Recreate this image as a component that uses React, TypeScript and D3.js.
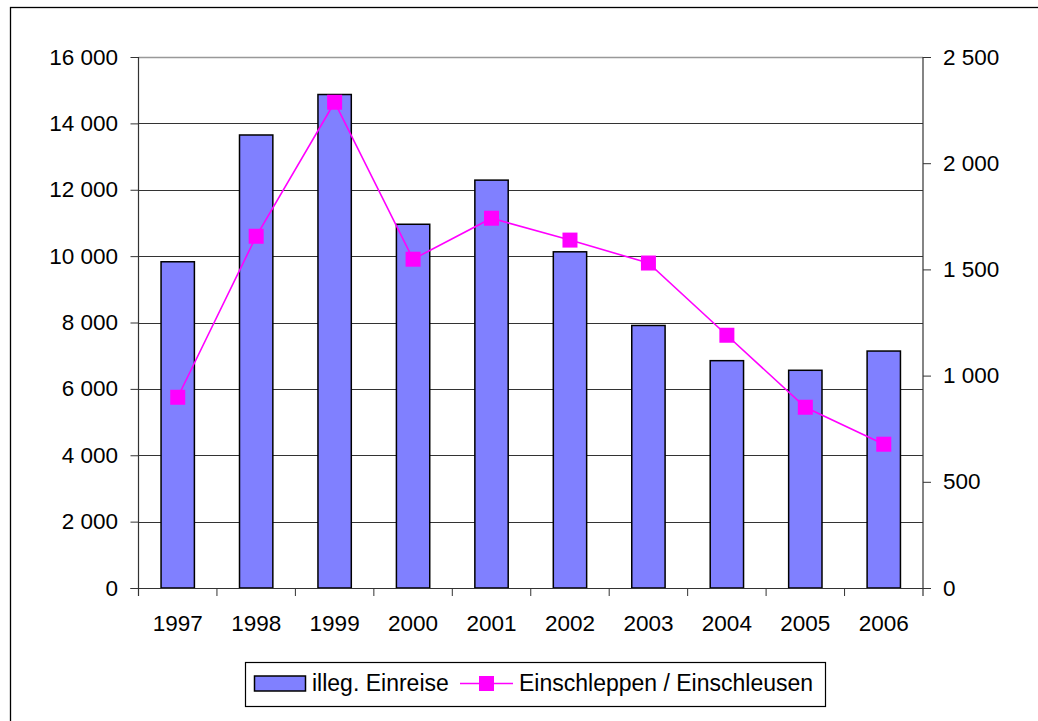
import React from "react";
import * as d3 from "d3";

const years = ["1997", "1998", "1999", "2000", "2001", "2002", "2003", "2004", "2005", "2006"];
const illegEinreise = [9830, 13650, 14870, 10960, 12290, 10130, 7910, 6850, 6560, 7140];
const einschleppen = [898, 1656, 2287, 1548, 1741, 1638, 1530, 1190, 851, 677];
const leftTicks = [0, 2000, 4000, 6000, 8000, 10000, 12000, 14000, 16000];
const rightTicks = [0, 500, 1000, 1500, 2000, 2500];
const seriesNames = ["illeg. Einreise", "Einschleppen / Einschleusen"];

const W = 1038;
const H = 721;
const M = { left: 138.5, right: 923, top: 57, bottom: 588 };
const FONT = "'Liberation Sans', Arial, sans-serif";

const fmt = (v: number) => {
  const s = String(v);
  return s.replace(/\B(?=(\d{3})+(?!\d))/g, " ");
};

export default function App() {
  const x = d3.scaleBand<string>().domain(years).range([M.left, M.right]);
  const yL = d3.scaleLinear().domain([0, 16000]).range([M.bottom, M.top]);
  const yR = d3.scaleLinear().domain([0, 2500]).range([M.bottom, M.top]);
  const bw = x.bandwidth() * 0.425;
  const cx = (d: string) => (x(d) as number) + x.bandwidth() / 2;
  const line = d3
    .line<number>()
    .x((_, i) => cx(years[i]))
    .y((v) => yR(v));
  const ms = 15;

  return (
    <svg
      width={W}
      height={H}
      style={{ position: "absolute", left: 0, top: 0, background: "#fff" }}
      fontFamily={FONT}
    >
      <rect x={0} y={0} width={W} height={H} fill="#fff" />
      <rect x={10.5} y={7.5} width={1040} height={730} fill="none" stroke="#000" strokeWidth={1.3} />

      {/* gridlines */}
      {leftTicks.map((t) => (
        <line
          key={"g" + t}
          x1={M.left}
          x2={M.right}
          y1={Math.round(yL(t)) + 0.5}
          y2={Math.round(yL(t)) + 0.5}
          stroke={t === 16000 ? "#999" : "#333"}
          strokeWidth={t === 16000 ? 1.5 : 1}
        />
      ))}

      {/* bars */}
      {illegEinreise.map((v, i) => (
        <rect
          key={"b" + i}
          x={cx(years[i]) - bw / 2}
          y={yL(v)}
          width={bw}
          height={yL(0) - yL(v)}
          fill="#8080FF"
          stroke="#000"
          strokeWidth={1.5}
        />
      ))}

      {/* axes lines */}
      <line x1={M.left} x2={M.left} y1={M.top} y2={M.bottom + 8} stroke="#333" strokeWidth={1.2} />
      <line x1={M.right} x2={M.right} y1={M.top} y2={M.bottom + 8} stroke="#333" strokeWidth={1.2} />
      <line x1={M.left - 8} x2={M.right + 8} y1={M.bottom + 0.5} y2={M.bottom + 0.5} stroke="#333" strokeWidth={1.2} />

      {/* left ticks */}
      {leftTicks.map((t) => (
        <g key={"lt" + t}>
          <line x1={M.left - 8} x2={M.left} y1={yL(t) + 0.5} y2={yL(t) + 0.5} stroke="#333" />
          <text x={118} y={yL(t) + 7.5} textAnchor="end" fontSize={22.5} fill="#000">
            {fmt(t)}
          </text>
        </g>
      ))}

      {/* right ticks */}
      {rightTicks.map((t) => (
        <g key={"rt" + t}>
          <line x1={M.right} x2={M.right + 8} y1={yR(t) + 0.5} y2={yR(t) + 0.5} stroke="#333" />
          <text x={943} y={yR(t) + 7.5} textAnchor="start" fontSize={22.5} fill="#000">
            {fmt(t)}
          </text>
        </g>
      ))}

      {/* x ticks */}
      {years.map((yr) => (
        <line
          key={"xt" + yr}
          x1={x(yr) as number}
          x2={x(yr) as number}
          y1={M.bottom}
          y2={M.bottom + 8}
          stroke="#333"
        />
      ))}
      {years.map((yr) => (
        <text key={"xl" + yr} x={cx(yr)} y={631} textAnchor="middle" fontSize={22.5} fill="#000">
          {yr}
        </text>
      ))}

      {/* line series */}
      <path d={line(einschleppen) || ""} fill="none" stroke="#FF00FF" strokeWidth={1.6} />
      {einschleppen.map((v, i) => (
        <rect
          key={"m" + i}
          x={cx(years[i]) - ms / 2}
          y={yR(v) - ms / 2}
          width={ms}
          height={ms}
          fill="#FF00FF"
        />
      ))}

      {/* legend */}
      <rect x={245.5} y={662.5} width={580} height={44} fill="#fff" stroke="#000" strokeWidth={1.2} />
      <rect x={254.5} y={676} width={51} height={15} fill="#8080FF" stroke="#000" strokeWidth={1.5} />
      <text x={312} y={691} fontSize={23} fill="#000">
        {seriesNames[0]}
      </text>
      <line x1={460} x2={513} y1={683.5} y2={683.5} stroke="#FF00FF" strokeWidth={1.6} />
      <rect x={486.5 - ms / 2} y={683.5 - ms / 2} width={ms} height={ms} fill="#FF00FF" />
      <text x={519} y={691} fontSize={23} fill="#000">
        {seriesNames[1]}
      </text>
    </svg>
  );
}
